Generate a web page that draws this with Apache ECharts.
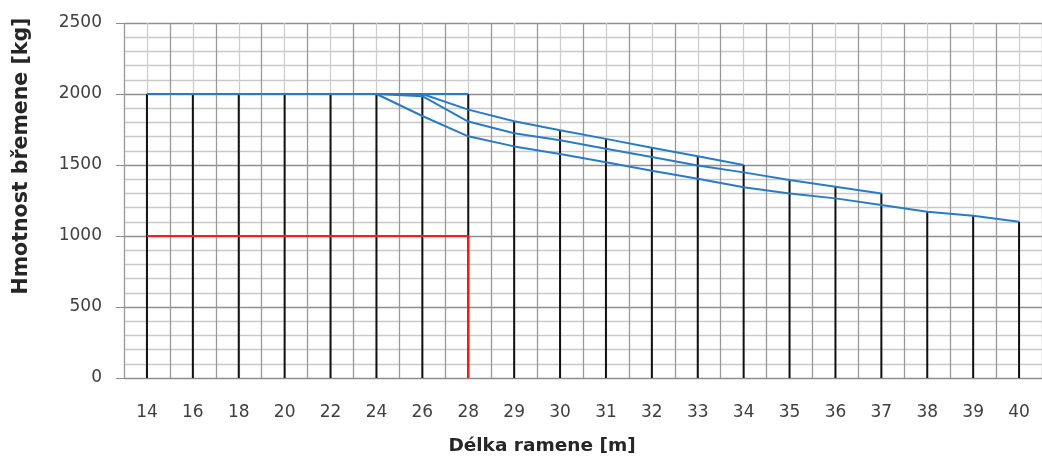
<!DOCTYPE html>
<html><head><meta charset="utf-8">
<script src="https://cdn.jsdelivr.net/npm/echarts@6/dist/echarts.min.js"></script>
<style>html,body{margin:0;padding:0;background:#fff}#c{width:1042px;height:461px}</style>
</head><body><div id="c"></div>
<script>
const categories = ['14','16','18','20','22','24','26','28','29','30','31','32','33','34','35','36','37','38','39','40'];
const yTicks = [0, 500, 1000, 1500, 2000, 2500];
const flat2000 = [2000,2000,2000,2000,2000,2000,2000,2000,null,null,null,null,null,null,null,null,null,null,null,null];
const jib34 = [2000,2000,2000,2000,2000,2000,2000,1890,1808,1745,1684,1622,1562,1500,null,null,null,null,null,null];
const jib37 = [2000,2000,2000,2000,2000,2000,1985,1806,1723,1675,1615,1557,1497,1448,1394,1347,1300,null,null,null];
const jib40 = [2000,2000,2000,2000,2000,2000,1845,1702,1631,1578,1519,1460,1403,1343,1300,1265,1218,1171,1143,1100];
const redCats = ['14','16','18','20','22','24','26','28','28'];
const redVals = [1000,1000,1000,1000,1000,1000,1000,1000,0];

const blueSeries = [flat2000, jib34, jib37, jib40];
const dropTop = categories.map((_, i) => Math.max(...blueSeries.map(a => a[i] == null ? 0 : a[i])));

const FONT = 'DejaVu Sans';
const chart = echarts.init(document.getElementById('c'), null, {renderer: 'canvas'});
const blue = '#2a7bc6';
const lineS = (data) => ({
  type: 'line', data, xAxisIndex: 0, yAxisIndex: 0, symbol: 'none', z: 5,
  lineStyle: {color: blue, width: 2}, itemStyle: {color: blue}, silent: true, animation: false
});
chart.setOption({
  animation: false,
  grid: {left: 124, right: -4, top: 23, bottom: 83},
  xAxis: [{
    type: 'category', data: categories, boundaryGap: true, position: 'bottom',
    axisLine: {show: true, lineStyle: {color: '#8c8c8c', width: 1}},
    axisTick: {show: false},
    axisLabel: {color: '#404040', fontFamily: FONT, fontSize: 17, margin: 26, interval: 0},
    splitLine: {show: false}
  }, {
    type: 'value', min: 0, max: 20, interval: 1, position: 'top',
    axisLine: {show: false}, axisTick: {show: false}, axisLabel: {show: false},
    splitLine: {show: true, lineStyle: {color: '#999999', width: 1.3}},
    minorTick: {show: false, splitNumber: 2},
    minorSplitLine: {show: true, lineStyle: {color: '#cdcdcd', width: 1.3}}
  }],
  yAxis: {
    type: 'value', min: yTicks[0], max: yTicks[yTicks.length - 1], interval: 500,
    axisLine: {show: false},
    axisTick: {show: true, length: 8, lineStyle: {color: '#8c8c8c'}},
    axisLabel: {color: '#404040', fontFamily: FONT, fontSize: 17, margin: 22,
                formatter: (v) => String(v)},
    splitLine: {show: true, lineStyle: {color: '#8f8f8f', width: 1.3}},
    minorTick: {show: false, splitNumber: 5},
    minorSplitLine: {show: true, lineStyle: {color: '#c9c9c9', width: 1.3}}
  },
  graphic: [
    {type: 'text', x: 22, y: 156, rotation: Math.PI / 2,
     style: {text: 'Hmotnost břemene [kg]', fontFamily: FONT, fontWeight: 'bold', fontSize: 20.5,
             fill: '#262626', align: 'center', verticalAlign: 'middle'}},
    {type: 'text', x: 542, y: 446,
     style: {text: 'Délka ramene [m]', fontFamily: FONT, fontWeight: 'bold', fontSize: 18.5,
             fill: '#262626', align: 'center', verticalAlign: 'middle'}}
  ],
  series: [
    {type: 'bar', data: dropTop, barWidth: 2, itemStyle: {color: '#111'}, z: 3, silent: true},
    lineS(flat2000), lineS(jib34), lineS(jib37), lineS(jib40),
    {type: 'line', data: redCats.map((c, i) => [c, redVals[i]]), symbol: 'none', z: 6,
     lineStyle: {color: '#ff1a1a', width: 2}, silent: true}
  ]
});
</script></body></html>
